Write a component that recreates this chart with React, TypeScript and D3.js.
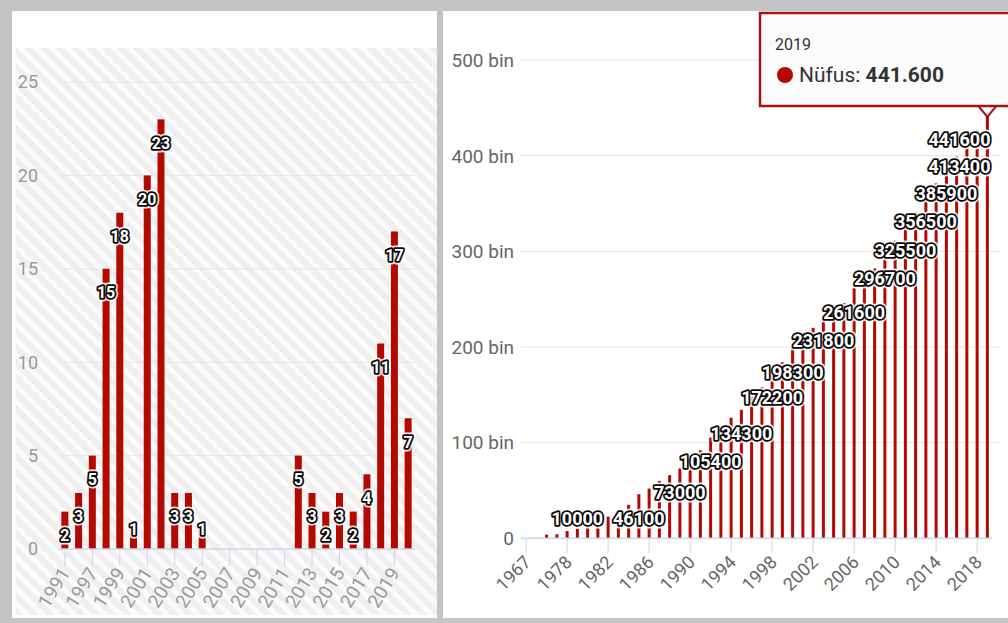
import React from "react";
import * as d3 from "d3";

// left chart: yearly counts
const leftYears = [
  "1991", "1996", "1997", "1998", "1999", "2000", "2001", "2002", "2003", "2004",
  "2005", "2006", "2007", "2008", "2009", "2010", "2011", "2012", "2013", "2014",
  "2015", "2016", "2017", "2018", "2019", "2020"
];
const leftValues = [2, 3, 5, 15, 18, 1, 20, 23, 3, 3, 1, 0, 0, 0, 0, 0, 0, 5, 3, 2, 3, 2, 4, 11, 17, 7];
const leftTicks = [0, 5, 10, 15, 20, 25];

// right chart: population (Nüfus)
const rightYears = [
  "1967", "1970", "1975", "1977", "1978", "1979", "1980", "1981", "1982", "1983",
  "1984", "1985", "1986", "1987", "1988", "1989", "1990", "1991", "1992", "1993",
  "1994", "1995", "1996", "1997", "1998", "1999", "2000", "2001", "2002", "2003",
  "2004", "2005", "2006", "2007", "2008", "2009", "2010", "2011", "2012", "2013",
  "2014", "2015", "2016", "2017", "2018", "2019"
];
const rightValues = [
  0, 0, 3800, 4200, 7600, 10000, 12000, 15000, 22600, 24000,
  35000, 46100, 52000, 60000, 66000, 73000, 83000, 92000, 105400, 116000,
  126000, 134300, 148000, 158000, 172200, 184000, 198300, 209000, 220000, 231800,
  238000, 246000, 261600, 270000, 282000, 296700, 311000, 325500, 341000, 356500,
  371000, 385900, 399000, 413400, 427000, 441600
];
const rightLabeled = ["1979", "1985", "1989", "1992", "1995", "1998", "2000", "2003", "2006", "2009", "2011", "2013", "2015", "2017", "2019"];
const rightTicks = [0, 100000, 200000, 300000, 400000, 500000];
const tooltipYear = "2019";

const RED = "#b20a00";
const AXIS = "#ccd6eb";
const GRID = "#e6e6e6";
const NARROW = "'Liberation Sans Narrow', 'Roboto', sans-serif";
const SANS = "Roboto, 'Open Sans', sans-serif";

function OutlinedLabel({ x, y, text, size, family }) {
  const common = {
    x,
    y,
    textAnchor: "middle",
    dominantBaseline: "central",
    fontFamily: family,
    fontSize: size,
    fontWeight: "bold"
  };
  return (
    <g>
      <text {...common} fill="none" stroke="#ffffff" strokeWidth={7} strokeLinejoin="round" opacity={0.85}>{text}</text>
      <text {...common} fill="#ffffff" stroke="#0a0a0a" strokeWidth={3.6} strokeLinejoin="round" style={{ paintOrder: "stroke" }}>{text}</text>
    </g>
  );
}

function LeftChart() {
  const x = d3.scaleBand().domain(leftYears).range([58, 415]);
  const y = d3.scaleLinear().domain([0, 25]).range([549, 82]);
  const base = y(0);
  const barW = 7;
  return (
    <g>
      <rect x={12} y={11} width={425} height={607} fill="#ffffff" />
      <rect x={16} y={48} width={421} height={567} fill="url(#hatch)" />
      {leftTicks.filter((t) => t > 0).map((t) => (
        <line key={t} x1={58} x2={415} y1={y(t)} y2={y(t)} stroke={GRID} strokeWidth={1} />
      ))}
      {leftTicks.map((t) => (
        <text key={t} x={38} y={y(t)} dy="0.36em" textAnchor="end" fontFamily={NARROW} fontSize={18} fill="#9a9a9a">
          {t}
        </text>
      ))}
      {leftYears.map((yr, i) => {
        const v = leftValues[i];
        if (!v) return null;
        const cx = x(yr) + x.bandwidth() / 2;
        return <rect key={yr} x={cx - barW / 2} y={y(v)} width={barW} height={base - y(v)} fill={RED} />;
      })}
      <line x1={58} x2={415} y1={base} y2={base} stroke={AXIS} strokeWidth={1.5} />
      {leftYears.map((yr, i) => {
        if (i % 2) return null;
        const cx = x(yr) + x.bandwidth() / 2;
        return (
          <g key={yr}>
            <line x1={cx} x2={cx} y1={base} y2={base + 17} stroke={AXIS} strokeWidth={1} />
            <text
              transform={`translate(${cx + 6},${base + 24}) rotate(-58)`}
              textAnchor="end"
              fontFamily={NARROW}
              fontSize={19}
              fill="#9a9a9a"
            >
              {yr}
            </text>
          </g>
        );
      })}
      {leftYears.map((yr, i) => {
        const v = leftValues[i];
        if (!v) return null;
        const cx = x(yr) + x.bandwidth() / 2;
        let ly = y(v) + 24;
        if (ly > base - 8) ly = base - 20;
        return <OutlinedLabel key={yr} x={cx} y={ly} text={String(v)} size={16} family={NARROW} />;
      })}
    </g>
  );
}

function RightChart() {
  const x = d3.scaleBand().domain(rightYears).range([521, 992.5]);
  const y = d3.scaleLinear().domain([0, 500000]).range([538.3, 60]);
  const base = y(0);
  const barW = 3;
  const fmt = (t) => (t === 0 ? "0" : `${t / 1000} bin`);
  const tipVal = rightValues[rightYears.indexOf(tooltipYear)];
  const tipX = x(tooltipYear) + x.bandwidth() / 2;
  return (
    <g>
      <rect x={443} y={11} width={565} height={607} fill="#ffffff" />
      {rightTicks.filter((t) => t > 0).map((t) => (
        <line key={t} x1={521} x2={1000} y1={y(t)} y2={y(t)} stroke={GRID} strokeWidth={1} />
      ))}
      {rightTicks.map((t) => (
        <text key={t} x={514} y={y(t)} dy="0.36em" textAnchor="end" fontFamily={SANS} fontSize={19} fill="#666">
          {fmt(t)}
        </text>
      ))}
      {rightYears.map((yr, i) => {
        const v = rightValues[i];
        if (!v) return null;
        const cx = x(yr) + x.bandwidth() / 2;
        return <rect key={yr} x={cx - barW / 2} y={y(v)} width={barW} height={base - y(v)} fill={RED} />;
      })}
      <line x1={521} x2={992.5} y1={base} y2={base} stroke={AXIS} strokeWidth={1.5} />
      {rightYears.map((yr, i) => {
        if (i % 4) return null;
        const cx = x(yr) + x.bandwidth() / 2;
        return (
          <g key={yr}>
            <line x1={cx} x2={cx} y1={base} y2={base + 15} stroke={AXIS} strokeWidth={1} />
            <text
              transform={`translate(${cx + 6},${base + 25}) rotate(-45)`}
              textAnchor="end"
              fontFamily={SANS}
              fontSize={18}
              fill="#666"
            >
              {yr}
            </text>
          </g>
        );
      })}
      {rightYears.map((yr, i) => {
        if (!rightLabeled.includes(yr)) return null;
        const v = rightValues[i];
        let cx = x(yr) + x.bandwidth() / 2;
        const half = 33;
        if (cx + half > 992.5) cx = 992.5 - half;
        let ly = y(v) + 24;
        if (ly > base - 8) ly = base - 20;
        return <OutlinedLabel key={yr} x={cx} y={ly} text={String(v)} size={18} family={SANS} />;
      })}
      {/* tooltip for the hovered point */}
      <g>
        <path
          d={`M${tipX - 9},106 L${tipX},${y(tipVal) + 1} L${tipX + 9},106 Z`}
          fill="#fafafa"
          stroke="#a31515"
          strokeWidth={2}
        />
        <rect x={760} y={13} width={262} height={93} fill="rgba(250,250,250,0.88)" stroke="#a31515" strokeWidth={2.5} />
        <text x={775} y={50} fontFamily={SANS} fontSize={16} fill="#333">
          {tooltipYear}
        </text>
        <circle cx={785} cy={75} r={8} fill={RED} />
        <text x={799} y={82} fontFamily={SANS} fontSize={21} fill="#333">
          Nüfus: <tspan fontWeight="bold">{d3.format(",")(tipVal).replace(/,/g, ".")}</tspan>
        </text>
      </g>
    </g>
  );
}

export default function App() {
  return (
    <svg
      width={1008}
      height={623}
      viewBox="0 0 1008 623"
      style={{ position: "absolute", left: 0, top: 0, background: "#c4c4c4" }}
    >
      <defs>
        <pattern id="hatch" width={11} height={11} patternUnits="userSpaceOnUse" patternTransform="rotate(-45)">
          <rect width={11} height={11} fill="#efefef" />
          <rect width={5} height={11} fill="#fbfbfb" />
        </pattern>
      </defs>
      <rect width={1008} height={623} fill="#c4c4c4" />
      <LeftChart />
      <RightChart />
    </svg>
  );
}
